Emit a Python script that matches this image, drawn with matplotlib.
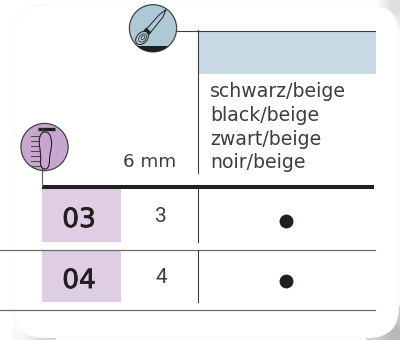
import matplotlib
matplotlib.use("Agg")
import matplotlib.pyplot as plt
import matplotlib.patheffects as pe
import numpy as np
from matplotlib.colors import LinearSegmentedColormap
from matplotlib.patches import Circle, Ellipse, FancyBboxPatch, PathPatch, Polygon, Rectangle
from matplotlib.path import Path

# --- table content ---
sizes = ["03", "04"]
mm_6 = ["3", "4"]
column_unit = "6 mm"
colour_names = ["schwarz/beige", "black/beige", "zwart/beige", "noir/beige"]
available = [1, 1]

# --- layout (pixels) ---
row_top = [189, 251]
row_bottom = [241.7, 301.7]
row_baseline = [227, 288]
value_baseline = [222, 283]
dot_y = [221, 281]
row_rule = [250, 310]
name_baseline = [97, 121, 145, 168]

INK = "#3f3d3e"
DARK = "#231f20"
PINK = "#dfcde3"
BLUE_ICON = "#aec9d6"
PURPLE_ICON = "#c9a6cf"
plt.rcParams["font.family"] = ["DejaVu Sans"]

fig = plt.figure(figsize=(4, 3.4), dpi=100, facecolor="white")
ax = fig.add_axes([0, 0, 1, 1])
ax.set_xlim(0, 400)
ax.set_ylim(340, 0)
ax.axis("off")

# corner shadows behind the card
grey = LinearSegmentedColormap.from_list("g", ["#ffffff", "#b8b8b8"])
ax.imshow([[0.0, 0.45], [0.0, 0.0]], extent=(368, 400, 45, 0), cmap=grey, vmin=0, vmax=1,
          interpolation="bilinear", aspect="auto", zorder=0, origin="upper")
ax.imshow([[0.0, 0.75], [0.6, 1.0]], extent=(366, 400, 340, 306), cmap=grey, vmin=0, vmax=1,
          interpolation="bilinear", origin="upper", aspect="auto", zorder=0)
ax.imshow([[0.0, 0.0], [0.1, 0.6]], extent=(13, 56, 340, 312), cmap=grey, vmin=0, vmax=1,
          interpolation="bilinear", origin="upper", aspect="auto", zorder=0)
ax.set_xlim(0, 400)
ax.set_ylim(340, 0)

ax.add_patch(FancyBboxPatch((13, 5), 385.5, 332.5, boxstyle="round,pad=0,rounding_size=30",
                            fc="#ffffff", ec="#f7f7f7", lw=0.7, zorder=1))

# colour header
ax.add_patch(Rectangle((198, 31.5), 178, 42.5, fc="#c9d9e3", ec="none", zorder=2))
ax.plot([176, 375], [30.5, 30.5], color=INK, lw=0.8, zorder=3)
ax.plot([198, 198], [30, 173], color=INK, lw=0.8, zorder=3)
for y, name in zip(name_baseline, colour_names):
    ax.text(210, y, name, fontsize=13.6, color=INK, va="baseline", ha="left", zorder=4)
ax.text(149.5, 167, column_unit, fontsize=13.2, color=INK, va="baseline", ha="center", zorder=4)

# rows
for i, size in enumerate(sizes):
    top, bottom = row_top[i], row_bottom[i]
    ax.add_patch(Rectangle((42, top), 79, bottom - top, fc=PINK, ec="none", zorder=2))
    ax.text(79, row_baseline[i], size, fontsize=19, color=DARK, va="baseline", ha="center", zorder=4,
            path_effects=[pe.withStroke(linewidth=0.6, foreground=DARK)])
    ax.text(161, value_baseline[i], mm_6[i], fontsize=15, color=INK, va="baseline", ha="center",
            zorder=4, family="Roboto")
    ax.plot([198, 198], [top - 1, bottom], color=INK, lw=0.8, zorder=3)
    ax.plot([0, 375], [row_rule[i], row_rule[i]], color="#6d6d6d", lw=0.9, zorder=3)
    if available[i]:
        ax.scatter([286], [dot_y[i]], s=100, color=DARK, linewidths=0, zorder=4)

# heavy rule and foot connector
ax.plot([42, 374], [187, 187], color=DARK, lw=2.9, solid_capstyle="butt", zorder=3)
ax.plot([41.7, 41.7], [165, 186], color="#666666", lw=0.9, zorder=3)

# brush icon
brush = Circle((153, 28.3), 23.6, fc=BLUE_ICON, ec="#444444", lw=0.9, zorder=5)
ax.add_patch(brush)
base = Rectangle((125, 45.5), 56, 10, fc=DARK, ec="none", zorder=6)
ax.add_patch(base)
base.set_clip_path(brush)
ax.add_patch(Polygon([[146.5, 29], [150.5, 32.5], [163, 17], [166, 9.5], [159, 15]],
                     fc=BLUE_ICON, ec=DARK, lw=0.7, zorder=7))
ax.add_patch(Polygon([[146, 28], [151, 32.5], [147.5, 36], [143, 32]], fc=DARK, ec=DARK, lw=0.4, zorder=7))
ax.add_patch(Ellipse((142, 38), 10.5, 15, angle=42, fc=BLUE_ICON, ec=DARK, lw=0.7, zorder=7))
ax.add_patch(Ellipse((142.5, 38), 6.5, 9.5, angle=42, fc="none", ec=DARK, lw=0.5, zorder=7))
ax.add_patch(Ellipse((143, 37.5), 3, 4.5, angle=42, fc="none", ec=DARK, lw=0.5, zorder=7))

# foot icon
ax.add_patch(Circle((44.5, 147), 23.6, fc=PURPLE_ICON, ec="#444444", lw=0.9, zorder=5))
ax.plot([37.5, 55], [129, 129], color=DARK, lw=2.4, solid_capstyle="butt", zorder=6)
ax.plot([41.7, 41.7], [128, 170], color="#444444", lw=0.7, zorder=6)
for y in [136, 141, 146, 151, 156, 161, 166]:
    ax.plot([31, 41.5], [y, y], color="#444444", lw=0.7, zorder=6)
foot = Path([(45, 132), (40, 132), (38.5, 139), (39.5, 146),
             (40.5, 152), (41, 157), (40.5, 161),
             (40, 166), (42, 169), (45, 169),
             (48, 169), (49.5, 166), (49.5, 160),
             (49.5, 154), (52, 148), (51.5, 142),
             (51, 136), (49.5, 132), (45, 132)],
            [Path.MOVETO] + [Path.CURVE4] * 18)
ax.add_patch(PathPatch(foot, fc=PURPLE_ICON, ec=DARK, lw=0.8, zorder=6.5))

fig.savefig("out.png", dpi=100, facecolor="white")
